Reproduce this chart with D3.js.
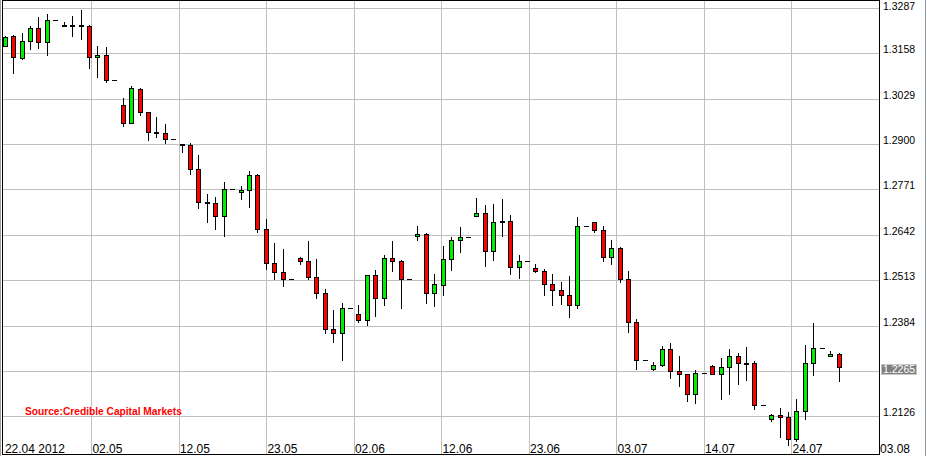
<!DOCTYPE html>
<html><head><meta charset="utf-8">
<script src="https://cdn.jsdelivr.net/npm/d3@7"></script>
<style>html,body{margin:0;padding:0;background:#fff;overflow:hidden}</style>
</head><body><svg id="c" width="927" height="456"></svg>
<script>
// ---- data (EUR/USD daily, 22.04.2012 .. 30.07.2012, one slot per calendar day) ----
const openV = [1.3180,1.3207,1.3145,1.3192,1.3229,1.3190,1.3252,1.3238,1.3238,1.3239,
1.3236,1.3147,1.3152,1.3081,1.3010,1.2959,1.3056,1.2990,1.2933,1.2931,
1.2914,1.2899,1.2897,1.2828,1.2734,1.2732,1.2696,1.2773,1.2763,1.2770,
1.2811,1.2659,1.2561,1.2535,1.2516,1.2575,1.2567,1.2521,1.2476,1.2373,
1.2362,1.2433,1.2416,1.2399,1.2527,1.2462,1.2575,1.2568,1.2516,1.2638,
1.2644,1.2476,1.2499,1.2572,1.2627,1.2635,1.2695,1.2703,1.2595,1.2680,
1.2681,1.2550,1.2567,1.2547,1.2538,1.2501,1.2484,1.2470,1.2442,1.2666,
1.2678,1.2655,1.2578,1.2604,1.2516,1.2393,1.2285,1.2260,1.2271,1.2317,
1.2254,1.2245,1.2189,1.2248,1.2268,1.2245,1.2265,1.2297,1.2278,1.2277,
1.2157,1.2118,1.2129,1.2123,1.2061,1.2140,1.2277,1.2319,1.2297,1.2302];
const highV = [1.3206,1.3210,1.3216,1.3236,1.3261,1.3270,1.3252,1.3246,1.3264,1.3281,
1.3239,1.3179,1.3176,1.3081,1.3031,1.3064,1.3059,1.2990,1.2976,1.2956,
1.2914,1.2900,1.2902,1.2869,1.2758,1.2749,1.2791,1.2773,1.2780,1.2823,
1.2815,1.2686,1.2618,1.2602,1.2516,1.2580,1.2625,1.2573,1.2487,1.2427,
1.2447,1.2433,1.2442,1.2527,1.2542,1.2584,1.2625,1.2570,1.2516,1.2666,
1.2646,1.2530,1.2609,1.2635,1.2663,1.2635,1.2746,1.2726,1.2729,1.2743,
1.2698,1.2584,1.2567,1.2558,1.2544,1.2530,1.2507,1.2524,1.2692,1.2666,
1.2678,1.2666,1.2627,1.2607,1.2538,1.2402,1.2285,1.2280,1.2325,1.2334,
1.2297,1.2245,1.2257,1.2248,1.2271,1.2291,1.2317,1.2305,1.2322,1.2282,
1.2157,1.2132,1.2149,1.2137,1.2174,1.2328,1.2390,1.2319,1.2311,1.2305];
const lowV = [1.3179,1.3103,1.3143,1.3171,1.3174,1.3154,1.3252,1.3235,1.3207,1.3200,
1.3117,1.3092,1.3077,1.3081,1.2952,1.2959,1.2982,1.2911,1.2920,1.2902,
1.2914,1.2878,1.2814,1.2719,1.2679,1.2659,1.2640,1.2773,1.2745,1.2722,
1.2651,1.2544,1.2516,1.2496,1.2516,1.2558,1.2516,1.2462,1.2362,1.2336,
1.2286,1.2433,1.2393,1.2385,1.2410,1.2442,1.2538,1.2435,1.2516,1.2627,
1.2449,1.2441,1.2472,1.2541,1.2592,1.2635,1.2695,1.2554,1.2570,1.2638,
1.2530,1.2518,1.2567,1.2535,1.2470,1.2442,1.2445,1.2407,1.2433,1.2666,
1.2649,1.2567,1.2558,1.2507,1.2365,1.2260,1.2285,1.2257,1.2268,1.2234,
1.2211,1.2169,1.2163,1.2248,1.2245,1.2174,1.2189,1.2217,1.2228,1.2146,
1.2157,1.2112,1.2066,1.2044,1.2055,1.2118,1.2243,1.2319,1.2297,1.2226];
const closeV = [1.3204,1.3147,1.3192,1.3229,1.3190,1.3252,1.3252,1.3236,1.3237,1.3235,
1.3147,1.3152,1.3081,1.3081,1.2959,1.3059,1.2990,1.2934,1.2931,1.2914,
1.2914,1.2897,1.2828,1.2735,1.2732,1.2696,1.2773,1.2773,1.2770,1.2811,
1.2659,1.2561,1.2535,1.2516,1.2516,1.2567,1.2521,1.2476,1.2373,1.2362,
1.2433,1.2433,1.2399,1.2527,1.2462,1.2575,1.2567,1.2516,1.2516,1.2644,
1.2476,1.2501,1.2572,1.2627,1.2635,1.2635,1.2703,1.2595,1.2678,1.2678,
1.2550,1.2567,1.2567,1.2538,1.2501,1.2484,1.2470,1.2442,1.2666,1.2666,
1.2655,1.2578,1.2604,1.2516,1.2393,1.2285,1.2285,1.2271,1.2317,1.2254,
1.2245,1.2189,1.2248,1.2248,1.2245,1.2265,1.2297,1.2277,1.2277,1.2157,
1.2157,1.2129,1.2123,1.2061,1.2140,1.2277,1.2319,1.2319,1.2302,1.2265];
const xTickLabels = ["22.04 2012","02.05","12.05","23.05","02.06","12.06","23.06","03.07","14.07","24.07","03.08"];
const yTickValues = [1.3287,1.3158,1.3029,1.2900,1.2771,1.2642,1.2513,1.2384,1.2255,1.2126];
const sourceText = "Source:Credible Capital Markets";

// ---- layout ----
const svg = d3.select("#c");
const L = 2.5, R = 879.5, T = 0.5, B = 454.5;
const x = d3.scaleLinear().domain([-0.1, 103.8]).range([3.9, 879]);
const y = d3.scaleLinear().domain([1.2126, 1.3287]).range([416.3, 8]);
const tickIdx = d3.scaleLinear().domain([0, xTickLabels.length - 1]).range(x.domain());
const upColor = "#00ee00", downColor = "#ff0000", gridColor = "#c0c0c0";
const crisp = v => Math.round(v) + 0.5;

svg.append("rect").attr("width", 927).attr("height", 456).attr("fill", "#fff");

// grid
const g = svg.append("g").attr("shape-rendering", "crispEdges");
g.selectAll("line.h").data(yTickValues).join("line")
  .attr("x1", L).attr("x2", R)
  .attr("y1", d => crisp(y(d))).attr("y2", d => crisp(y(d)))
  .attr("stroke", gridColor);
g.selectAll("line.v").data(xTickLabels.slice(1, -1)).join("line")
  .attr("x1", (d, i) => crisp(x(tickIdx(i + 1)))).attr("x2", (d, i) => crisp(x(tickIdx(i + 1))))
  .attr("y1", T).attr("y2", B)
  .attr("stroke", gridColor);

// candles
const data = openV.map((o, i) => ({i, o, h: highV[i], l: lowV[i], c: closeV[i]}));
const cg = svg.append("g").attr("shape-rendering", "crispEdges");
data.forEach(d => {
  const xc = Math.round(x(d.i));
  if (d.h === d.l) {
    cg.append("line").attr("x1", xc - 2).attr("x2", xc + 3)
      .attr("y1", crisp(y(d.c))).attr("y2", crisp(y(d.c))).attr("stroke", "#000");
    return;
  }
  cg.append("line").attr("x1", xc + 0.5).attr("x2", xc + 0.5)
    .attr("y1", Math.round(y(d.h))).attr("y2", Math.round(y(d.l)) + 1).attr("stroke", "#000");
  const yt = Math.round(Math.min(y(d.o), y(d.c)));
  const yb = Math.round(Math.max(y(d.o), y(d.c)));
  const hgt = Math.max(yb - yt, 1);
  cg.append("rect").attr("x", xc - 1.5).attr("y", yt + 0.5)
    .attr("width", 4).attr("height", hgt)
    .attr("fill", d.c >= d.o ? upColor : downColor)
    .attr("stroke", "#000").attr("stroke-width", 1);
});

// frame
svg.append("rect").attr("x", L).attr("y", T).attr("width", R - L).attr("height", B - T)
  .attr("fill", "none").attr("stroke", "#000").attr("shape-rendering", "crispEdges");
svg.append("line").attr("x1", 0.5).attr("x2", 0.5).attr("y1", 0).attr("y2", 456).attr("stroke", "#a0a0a0");
svg.append("line").attr("x1", 925.5).attr("x2", 925.5).attr("y1", 0).attr("y2", 456).attr("stroke", "#8a96a4");

// y labels (top one nudged down so it is not cut by the edge)
svg.append("g").selectAll("text").data(yTickValues.filter((d, i) => i !== 8)).join("text")
  .attr("x", 883).attr("y", d => Math.max(Math.round(y(d)), 10))
  .attr("font-family", "Liberation Sans, Arial, sans-serif").attr("font-size", 10.5)
  .attr("fill", "#000").text(d => d3.format(".4f")(d));

// last price marker
const last = closeV[closeV.length - 1];
const yl = y(last);
svg.append("rect").attr("x", 881.5).attr("y", Math.round(yl - 3.4) + 0.5).attr("width", 35).attr("height", 10)
  .attr("fill", "#808080").attr("stroke", "#c8c8c8").attr("shape-rendering", "crispEdges");
svg.append("text").attr("x", 883).attr("y", Math.round(yl + 5.3))
  .attr("font-family", "Liberation Sans, Arial, sans-serif").attr("font-size", 10.5)
  .attr("fill", "#fff").text(d3.format(".4f")(last));

// x labels
svg.append("g").selectAll("text").data(xTickLabels).join("text")
  .attr("x", (d, i) => x(tickIdx(i)) + 1).attr("y", 452.5)
  .attr("font-family", "Liberation Sans, Arial, sans-serif").attr("font-size", 12)
  .attr("fill", "#000").text(d => d);

// source
svg.append("text").attr("x", 25).attr("y", 415)
  .attr("font-family", "Liberation Sans, Arial, sans-serif").attr("font-size", 10.2)
  .attr("font-weight", "bold").attr("fill", "#ff0000").text(sourceText);
</script>
</body></html>
